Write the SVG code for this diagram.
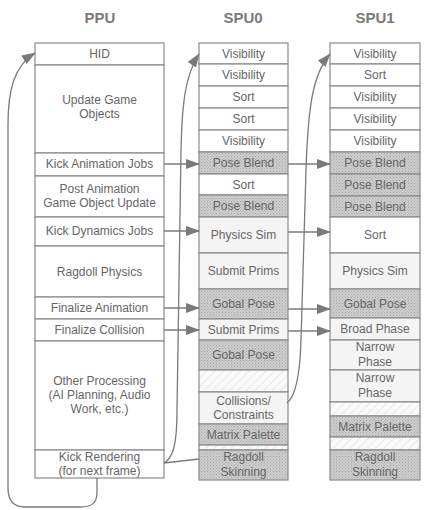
<svg xmlns="http://www.w3.org/2000/svg" width="426" height="510" viewBox="0 0 426 510">
<defs>
<pattern id="dots" width="3" height="3" patternUnits="userSpaceOnUse">
<rect width="3" height="3" fill="#cdcdcd"/>
<rect x="0" y="0" width="1" height="1" fill="#a8a8a8"/>
<rect x="1.5" y="1.5" width="1" height="1" fill="#b4b4b4"/>
</pattern>
<pattern id="hatch" width="6" height="6" patternUnits="userSpaceOnUse" patternTransform="rotate(45)">
<rect width="6" height="6" fill="#fafafa"/>
<line x1="0" y1="0" x2="0" y2="6" stroke="#dcdcdc" stroke-width="1.2"/>
</pattern>
<marker id="ah" viewBox="0 0 14 10" refX="13" refY="5" markerWidth="14" markerHeight="10" markerUnits="userSpaceOnUse" orient="auto">
<path d="M0,0 L14,5 L0,10 Z" fill="#7a7a7a"/>
</marker>
</defs>
<style>
rect.c{stroke:#8a8a8a;stroke-width:1.2;fill:#ffffff}
rect.d{fill:url(#dots)}
rect.l{fill:#f4f4f4}
rect.h{fill:url(#hatch)}
text{font-family:"Liberation Sans",Arial,sans-serif;font-size:12px;fill:#666;text-anchor:middle}
text.hd{font-size:15px;font-weight:bold;fill:#7a7a7a}
.con path,.con line{stroke:#7a7a7a;stroke-width:1.3;fill:none}
</style>
<rect width="426" height="510" fill="#ffffff"/>
<text class="hd" x="100" y="23">PPU</text>
<text class="hd" x="243" y="23">SPU0</text>
<text class="hd" x="375" y="23">SPU1</text>

<g id="ppu">
<g id="ppu-hid"><rect class="c" x="35" y="43" width="129" height="22"/><text x="99.5" y="58">HID</text></g>
<g id="ppu-update"><rect class="c" x="35" y="65" width="129" height="88"/><text x="99.5" y="104">Update Game</text><text x="99.5" y="118">Objects</text></g>
<g id="ppu-kickanim"><rect class="c" x="35" y="153" width="129" height="23"/><text x="99.5" y="168">Kick Animation Jobs</text></g>
<g id="ppu-postanim"><rect class="c" x="35" y="176" width="129" height="41"/><text x="99.5" y="193">Post Animation</text><text x="99.5" y="207">Game Object Update</text></g>
<g id="ppu-kickdyn"><rect class="c" x="35" y="217" width="129" height="29"/><text x="99.5" y="235">Kick Dynamics Jobs</text></g>
<g id="ppu-ragdoll"><rect class="c" x="35" y="246" width="129" height="51"/><text x="99.5" y="276">Ragdoll Physics</text></g>
<g id="ppu-finanim"><rect class="c" x="35" y="297" width="129" height="22"/><text x="99.5" y="312">Finalize Animation</text></g>
<g id="ppu-fincoll"><rect class="c" x="35" y="319" width="129" height="22"/><text x="99.5" y="334">Finalize Collision</text></g>
<g id="ppu-other"><rect class="c" x="35" y="341" width="129" height="109"/><text x="99.5" y="385">Other Processing</text><text x="99.5" y="399">(AI Planning, Audio</text><text x="99.5" y="413">Work, etc.)</text></g>
<g id="ppu-kickrender"><rect class="c" x="35" y="450" width="129" height="28"/><text x="99.5" y="461">Kick Rendering</text><text x="99.5" y="475">(for next frame)</text></g>
</g>

<g id="spu0">
<g id="s0-vis1"><rect class="c" x="199" y="43" width="89" height="21"/><text x="243.5" y="58">Visibility</text></g>
<g id="s0-vis2"><rect class="c" x="199" y="64" width="89" height="22"/><text x="243.5" y="79">Visibility</text></g>
<g id="s0-sort1"><rect class="c" x="199" y="86" width="89" height="22"/><text x="243.5" y="101">Sort</text></g>
<g id="s0-sort2"><rect class="c" x="199" y="108" width="89" height="22"/><text x="243.5" y="123">Sort</text></g>
<g id="s0-vis3"><rect class="c" x="199" y="130" width="89" height="22"/><text x="243.5" y="145">Visibility</text></g>
<g id="s0-pose1"><rect class="c d" x="199" y="152" width="89" height="22"/><text x="243.5" y="167">Pose Blend</text></g>
<g id="s0-sort3"><rect class="c" x="199" y="174" width="89" height="21"/><text x="243.5" y="189">Sort</text></g>
<g id="s0-pose2"><rect class="c d" x="199" y="195" width="89" height="22"/><text x="243.5" y="210">Pose Blend</text></g>
<g id="s0-phys"><rect class="c l" x="199" y="217" width="89" height="36"/><text x="243.5" y="239">Physics Sim</text></g>
<g id="s0-submit1"><rect class="c l" x="199" y="253" width="89" height="36"/><text x="243.5" y="275">Submit Prims</text></g>
<g id="s0-gpose1"><rect class="c d" x="199" y="289" width="89" height="30"/><text x="243.5" y="308">Gobal Pose</text></g>
<g id="s0-submit2"><rect class="c l" x="199" y="319" width="89" height="21"/><text x="243.5" y="334">Submit Prims</text></g>
<g id="s0-gpose2"><rect class="c d" x="199" y="340" width="89" height="30"/><text x="243.5" y="359">Gobal Pose</text></g>
<g id="s0-idle1"><rect class="c h" x="199" y="370" width="89" height="22"/></g>
<g id="s0-coll"><rect class="c l" x="199" y="392" width="89" height="32"/><text x="243.5" y="405">Collisions/</text><text x="243.5" y="419">Constraints</text></g>
<g id="s0-matrix"><rect class="c d" x="199" y="424" width="89" height="21"/><text x="243.5" y="439">Matrix Palette</text></g>
<g id="s0-idle2"><rect class="c h" x="199" y="445" width="89" height="5"/></g>
<g id="s0-skin"><rect class="c d" x="199" y="450" width="89" height="30"/><text x="243.5" y="461">Ragdoll</text><text x="243.5" y="476">Skinning</text></g>
</g>

<g id="spu1">
<g id="s1-vis1"><rect class="c" x="330" y="43" width="90" height="21"/><text x="375" y="58">Visibility</text></g>
<g id="s1-sort1"><rect class="c" x="330" y="64" width="90" height="22"/><text x="375" y="79">Sort</text></g>
<g id="s1-vis2"><rect class="c" x="330" y="86" width="90" height="22"/><text x="375" y="101">Visibility</text></g>
<g id="s1-vis3"><rect class="c" x="330" y="108" width="90" height="22"/><text x="375" y="123">Visibility</text></g>
<g id="s1-vis4"><rect class="c" x="330" y="130" width="90" height="22"/><text x="375" y="145">Visibility</text></g>
<g id="s1-pose1"><rect class="c d" x="330" y="152" width="90" height="22"/><text x="375" y="167">Pose Blend</text></g>
<g id="s1-pose2"><rect class="c d" x="330" y="174" width="90" height="22"/><text x="375" y="189">Pose Blend</text></g>
<g id="s1-pose3"><rect class="c d" x="330" y="196" width="90" height="21"/><text x="375" y="211">Pose Blend</text></g>
<g id="s1-sort2"><rect class="c" x="330" y="217" width="90" height="36"/><text x="375" y="239">Sort</text></g>
<g id="s1-phys"><rect class="c l" x="330" y="253" width="90" height="36"/><text x="375" y="275">Physics Sim</text></g>
<g id="s1-gpose"><rect class="c d" x="330" y="289" width="90" height="29"/><text x="375" y="308">Gobal Pose</text></g>
<g id="s1-broad"><rect class="c l" x="330" y="318" width="90" height="22"/><text x="375" y="333">Broad Phase</text></g>
<g id="s1-narrow1"><rect class="c l" x="330" y="340" width="90" height="30"/><text x="375" y="351">Narrow</text><text x="375" y="366">Phase</text></g>
<g id="s1-narrow2"><rect class="c l" x="330" y="370" width="90" height="32"/><text x="375" y="382">Narrow</text><text x="375" y="397">Phase</text></g>
<g id="s1-idle1"><rect class="c h" x="330" y="402" width="90" height="14"/></g>
<g id="s1-matrix"><rect class="c d" x="330" y="416" width="90" height="21"/><text x="375" y="431">Matrix Palette</text></g>
<g id="s1-idle2"><rect class="c h" x="330" y="437" width="90" height="13"/></g>
<g id="s1-skin"><rect class="c d" x="330" y="450" width="90" height="30"/><text x="375" y="461">Ragdoll</text><text x="375" y="476">Skinning</text></g>
</g>

<g id="connectors" class="con">
<line x1="164" y1="164" x2="199" y2="164" marker-end="url(#ah)"/>
<line x1="164" y1="231" x2="199" y2="231" marker-end="url(#ah)"/>
<line x1="164" y1="308" x2="199" y2="308" marker-end="url(#ah)"/>
<line x1="164" y1="330" x2="199" y2="330" marker-end="url(#ah)"/>
<line x1="288" y1="164" x2="330" y2="164" marker-end="url(#ah)"/>
<line x1="288" y1="232" x2="330" y2="232" marker-end="url(#ah)"/>
<line x1="288" y1="309" x2="330" y2="309" marker-end="url(#ah)"/>
<line x1="288" y1="331" x2="330" y2="331" marker-end="url(#ah)"/>
<path d="M97,478 L97,492 C97,503 92,507 80,507 L25,507 C13,507 8,500 8,488 L8,125 C8,90 14,66 35,53" marker-end="url(#ah)"/>
<path d="M164,463 C173,458 177,445 177,410 L181,150 C182,105 185,75 199,54" marker-end="url(#ah)"/>
<path d="M164,463 L199,459"/>
<path d="M287,403 C296,396 300,375 301,340 L306,170 C308,110 312,75 330,54" marker-end="url(#ah)"/>
</g>
</svg>
